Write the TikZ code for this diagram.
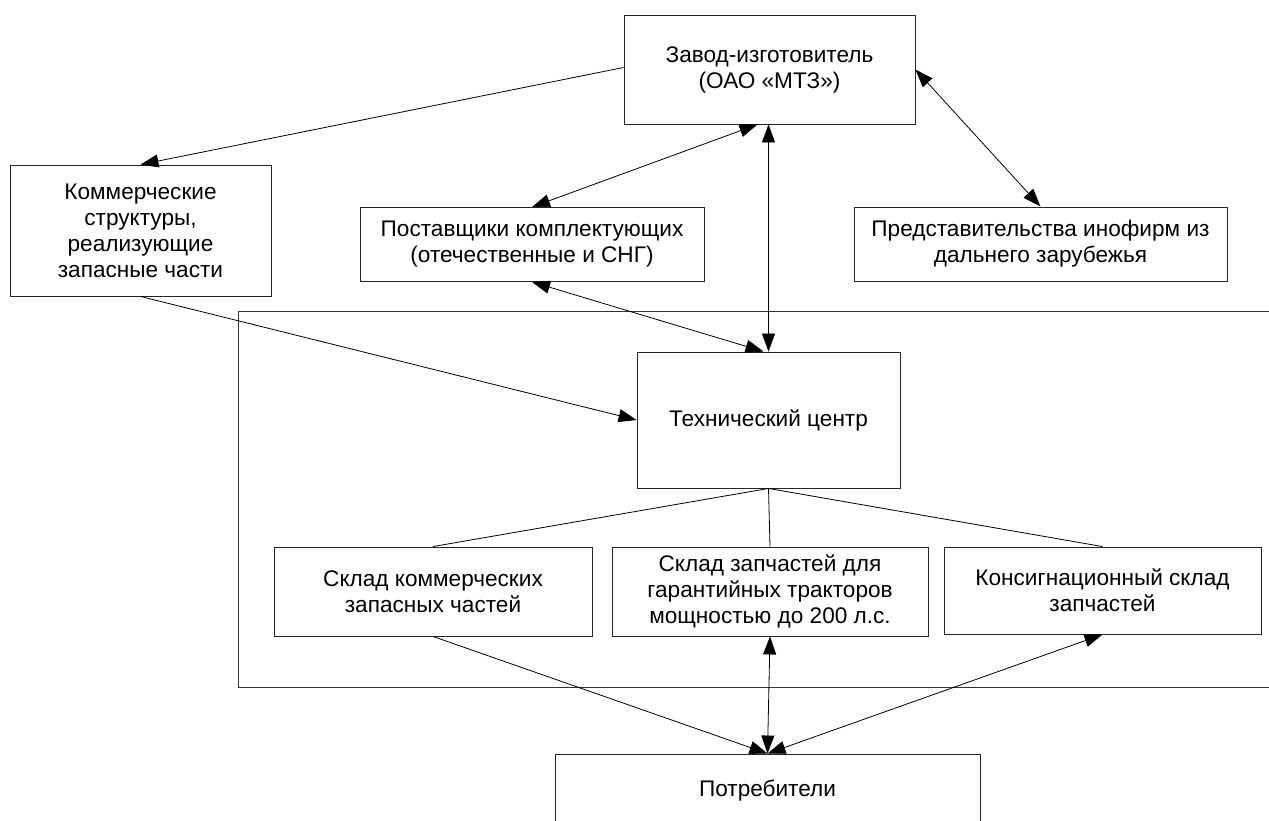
\documentclass[tikz,border=0pt]{standalone}
\usepackage{fontspec}
\setmainfont{Liberation Sans}
\usetikzlibrary{arrows.meta}
\tikzset{
  box/.style={draw=black!85, line width=0.9pt, rectangle, inner sep=0pt, align=center,
    font=\fontsize{22.6}{26}\selectfont},
  conn/.style={line width=0.8pt, draw=black},
  tip/.style={-{Triangle[length=18pt,width=13pt]}},
  tips/.style={{Triangle[length=18pt,width=13pt]}-{Triangle[length=18pt,width=13pt]}},
  frame/.style={draw=black!80, line width=0.9pt}
}
\begin{document}
\begin{tikzpicture}[x=1pt,y=-1pt]
\useasboundingbox (0,0) rectangle (1269,821);
\clip (0,0) rectangle (1269,821);
\fill[white] (0,0) rectangle (1269,821);
% container
\draw[frame] (1290,311) -- (238,311) -- (238,687) -- (1290,687);
% nodes
\node[box, minimum width=291pt, minimum height=109pt] (zavod) at (769.5,69.5) {Завод-изготовитель\\(ОАО «МТЗ»)};
\node[box, minimum width=261pt, minimum height=131pt] (komm) at (140.5,230.5) {Коммерческие\\структуры,\\реализующие\\запасные части};
\node[box, minimum width=344pt, minimum height=74pt] (post) at (532,244.5) {Поставщики комплектующих\\(отечественные и СНГ)};
\node[box, minimum width=373pt, minimum height=74pt] (pred) at (1040.5,244) {Представительства инофирм из\\дальнего зарубежья};
\node[box, minimum width=263pt, minimum height=136pt] (tech) at (768.5,420) {Технический центр};
\node[box, minimum width=318pt, minimum height=89pt] (skk) at (433,591.5) {Склад коммерческих\\запасных частей};
\node[box, minimum width=316pt, minimum height=89pt] (skz) at (770,591.5) {Склад запчастей для\\гарантийных тракторов\\мощностью до 200 л.с.};
\node[box, minimum width=317pt, minimum height=87pt] (kons) at (1102.5,590.5) {Консигнационный склад\\запчастей};
\node[box, minimum width=425pt, minimum height=74pt] (potr) at (767.5,791) {Потребители};
% connectors
\coordinate (zw) at ([yshift=2pt]zavod.west);
\coordinate (zs1) at ([xshift=-12pt]zavod.south);
\coordinate (tn) at ([xshift=-5pt]tech.north);
\draw[conn, tip] (zw) -- (komm.north);
\draw[conn, tips] (post.north) -- (zs1);
\draw[conn, tips] (tech.north |- zavod.south) -- (tech.north);
\draw[conn, tips] (zavod.east) -- (pred.north);
\draw[conn, tips] (post.south) -- (tn);
\draw[conn, tip] (komm.south) -- (tech.west);
\draw[conn] (tech.south) -- (skk.north);
\draw[conn] (tech.south) -- (skz.north);
\draw[conn] (tech.south) -- (kons.north);
\draw[conn, tip] (skk.south) -- (potr.north);
\draw[conn, tips] (skz.south) -- (potr.north);
\draw[conn, tips] (kons.south) -- (potr.north);
\end{tikzpicture}
\end{document}
